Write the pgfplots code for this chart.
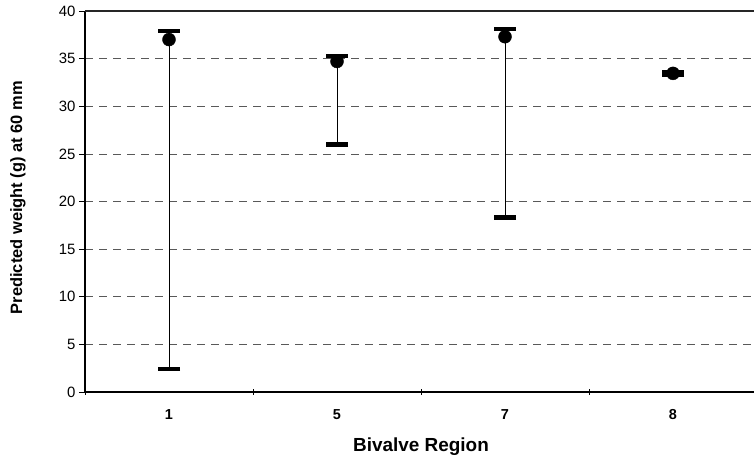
\documentclass[border=0pt]{standalone}
\usepackage{pgfplots}
\pgfplotsset{compat=1.18}
\usepackage{fontspec}
\setmainfont{Liberation Sans}
\begin{document}
\begin{tikzpicture}[x=1bp,y=1bp]
\path[use as bounding box] (0,0) rectangle (754,461);
\begin{axis}[
  at={(85bp,69bp)}, anchor=south west,
  scale only axis, width=672bp, height=381bp,
  xmin=0, xmax=4, ymin=0, ymax=40,
  axis x line=bottom, axis y line=left,
  axis line style={line width=1.3pt, -},
  xtick={0,1,2,3}, xticklabels={},
  extra x ticks={0.5,1.5,2.5,3.5},
  extra x tick labels={1,5,7,8},
  extra x tick style={major tick length=0pt, grid=none,
     xticklabel style={font=\fontsize{14.5}{16}\selectfont\bfseries, yshift=-14bp}},
  ytick={0,5,...,40},
  yticklabel style={font=\fontsize{15}{17}\selectfont},
  /pgf/number format/assume math mode=true,
  tick style={black, line width=0.7pt},
  major tick length=6bp,
  xtick align=center, ytick align=outside,
  ymajorgrids,
  grid style={dash pattern=on 8bp off 6bp, gray!70!black, line width=0.7pt},
  xlabel={Bivalve Region},
  xlabel style={font=\fontsize{19}{21}\selectfont\bfseries, at={(axis description cs:0.5,-0.143)}, anchor=center},
  ylabel={Predicted weight (g) at 60 mm},
  ylabel style={font=\fontsize{16.5}{18}\selectfont\bfseries, at={(axis description cs:-0.0997,0.51)}, anchor=center},
  clip=false,
]
\draw[line width=1.2pt, black!85] (axis cs:0,40) -- (axis cs:4,40);
\addplot[black, only marks, mark=*, mark size=6.5bp,
  error bars/.cd, y dir=both, y explicit,
  error mark=|,
  error bar style={line width=0.9pt, black},
  error mark options={line width=4.5pt, mark size=11bp, black}]
  coordinates {
  (0.5,37.0) += (0,0.9) -= (0,34.6)
  (1.5,34.7) += (0,0.6) -= (0,8.7)
  (2.5,37.3) += (0,0.8) -= (0,19.0)
  (3.5,33.45) += (0,0.15) -= (0,0.15)
  };
\end{axis}
\end{tikzpicture}
\end{document}
